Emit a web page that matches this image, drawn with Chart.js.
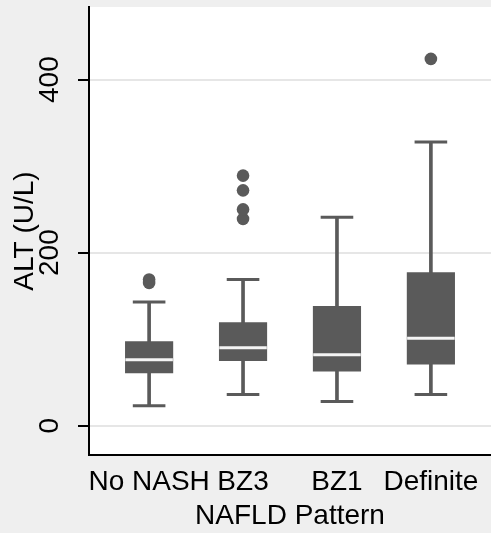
<!DOCTYPE html>
<html>
<head>
<meta charset="utf-8">
<script src="https://cdn.jsdelivr.net/npm/chart.js@4/dist/chart.umd.min.js"></script>
<style>
      html, body { margin: 0; padding: 0; background: #efefef; }
      canvas { display: block; }
</style>
</head>
<body>
<canvas id="altChart" width="491" height="533"></canvas>
<script>
// ALT by NAFLD pattern
let categories = ["No NASH", "BZ3", "BZ1", "Definite"];
let whiskerLow = [23, 36, 28, 36];
let lowerQuartile = [61, 75, 63, 71];
let medians = [76, 90, 82, 101];
let upperQuartile = [97, 119, 138, 177];
let whiskerHigh = [143, 169, 241, 328];
let outliers = [[165, 169], [239, 250, 272, 289], [], [424]];
let yTicks = [0, 200, 400];

let boxGrey = "#5a5a5a";
let fontFamily = "'Liberation Sans', Arial, sans-serif";

let positions = categories.map((c, i) => i + 1);
let pairs = (lo, hi) => positions.map((x, i) => ({ x: x, y: [lo[i], hi[i]] }));
let points = (values) => positions.map((x, i) => ({ x: x, y: values[i] }));
let outlierPoints = [];
outliers.forEach((list, i) => {
      list.forEach((v) => outlierPoints.push({ x: positions[i], y: v }));
});

// labels may hang over the plot edges, so keep the layout from shrinking it
let noEdgePadding = (scale) => {
      scale.paddingTop = 0;
      scale.paddingBottom = 0;
      scale.paddingLeft = 0;
      scale.paddingRight = 0;
};

// white plot region on the grey page
let plotBackground = {
      id: "plotBackground",
      beforeDraw: (chart) => {
            let { ctx, chartArea: a } = chart;
            ctx.save();
            ctx.fillStyle = "#ffffff";
            ctx.fillRect(a.left, a.top, a.right - a.left, a.bottom - a.top);
            ctx.restore();
      }
};

let ctx = document.getElementById("altChart").getContext("2d");
new Chart(ctx, {
      type: "bar",
      data: {
            datasets: [
                  {
                        type: "scatter",
                        data: outlierPoints,
                        pointRadius: 6.3,
                        pointBorderWidth: 0,
                        backgroundColor: boxGrey,
                        order: 1
                  },
                  {
                        type: "scatter",
                        data: points(medians),
                        pointStyle: "line",
                        pointRadius: 23.75,
                        pointBorderWidth: 3,
                        borderColor: "#f4f4f4",
                        order: 2
                  },
                  {
                        data: pairs(lowerQuartile, upperQuartile),
                        backgroundColor: boxGrey,
                        barThickness: 47.5,
                        grouped: false,
                        borderWidth: 0,
                        order: 3
                  },
                  {
                        type: "scatter",
                        data: points(whiskerLow).concat(points(whiskerHigh)),
                        pointStyle: "line",
                        pointRadius: 16.3,
                        pointBorderWidth: 3,
                        borderColor: boxGrey,
                        order: 4
                  },
                  {
                        data: pairs(whiskerLow, whiskerHigh),
                        backgroundColor: boxGrey,
                        barThickness: 3,
                        grouped: false,
                        borderWidth: 0,
                        order: 5
                  }
            ]
      },
      options: {
            responsive: false,
            animation: false,
            events: [],
            layout: {
                  autoPadding: false,
                  padding: { top: 7, left: 0, right: 0, bottom: 0 }
            },
            plugins: {
                  legend: { display: false },
                  tooltip: { enabled: false }
            },
            scales: {
                  x: {
                        type: "linear",
                        min: 0.36,
                        max: 4.64,
                        offset: false,
                        grid: { display: false, drawTicks: false, offset: false },
                        border: { display: true, color: "#000000", width: 2 },
                        afterBuildTicks: (scale) => {
                              scale.ticks = positions.map((v) => ({ value: v }));
                        },
                        afterFit: (scale) => {
                              scale.height = 78;
                              noEdgePadding(scale);
                        },
                        ticks: {
                              padding: 10,
                              color: "#000000",
                              font: { family: fontFamily, size: 28 },
                              maxRotation: 0,
                              autoSkip: false,
                              callback: (v) => categories[v - 1]
                        },
                        title: {
                              display: true,
                              text: "NAFLD Pattern",
                              color: "#000000",
                              font: { family: fontFamily, size: 28 },
                              padding: { top: 0, bottom: 0 }
                        }
                  },
                  y: {
                        min: -34,
                        max: 484,
                        afterBuildTicks: (scale) => {
                              scale.ticks = yTicks.map((v) => ({ value: v }));
                        },
                        afterFit: (scale) => {
                              scale.width = 89;
                              noEdgePadding(scale);
                        },
                        grid: {
                              color: "#e6e6e6",
                              lineWidth: 2,
                              tickColor: "#000000",
                              tickWidth: 2,
                              tickLength: 11
                        },
                        border: { display: true, color: "#000000", width: 2 },
                        ticks: {
                              padding: 4,
                              minRotation: 90,
                              maxRotation: 90,
                              crossAlign: "center",
                              color: "#000000",
                              font: { family: fontFamily, size: 28 }
                        },
                        title: {
                              display: true,
                              text: "ALT (U/L)",
                              color: "#000000",
                              font: { family: fontFamily, size: 28 },
                              padding: { top: 8, bottom: 0 }
                        }
                  }
            }
      },
      plugins: [plotBackground]
});
</script>
</body>
</html>
